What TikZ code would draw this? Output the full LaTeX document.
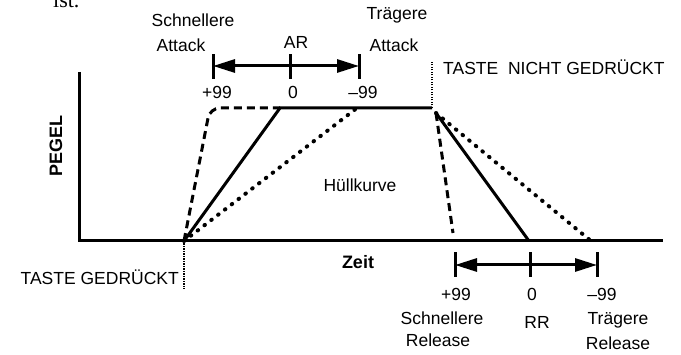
\documentclass[tikz,border=0pt]{standalone}
\usepackage{fontspec}
\setmainfont{Liberation Sans}
\newfontfamily\bodyserif{Liberation Serif}
\usetikzlibrary{arrows.meta}

\begin{document}
\begin{tikzpicture}[x=1pt,y=-1pt,
  lbl/.style={font=\fontsize{17.5}{19}\selectfont, inner sep=0pt},
  blbl/.style={font=\fontsize{18}{20}\selectfont\bfseries, inner sep=0pt},
  axis/.style={line width=3pt},
  env/.style={line width=3pt},
  envdash/.style={line width=3pt, dash pattern=on 8pt off 5pt},
  envdot/.style={line width=4pt, line cap=round, dash pattern=on 0.6pt off 8pt},
  keymark/.style={line width=2.6pt, dash pattern=on 1.3pt off 1.2pt},
  tickmark/.style={line width=3pt},
  ratearrow/.style={line width=3pt, -{Triangle[length=22pt,width=13pt]}}
]
\useasboundingbox (0,0) rectangle (681,355);

% fragment of the running text above the figure
\node[font=\bodyserif\fontsize{22}{24}\selectfont, inner sep=0pt, anchor=base west] (ist) at (53,8) {ist.};

% axes
\coordinate (ytop) at (79,72);
\coordinate (orig) at (79,241);
\coordinate (xend) at (663,241);
\draw[axis] (ytop) -- (orig) -- (xend);
\node[blbl, rotate=90] (pegel) at (56,146) {PEGEL};
\node[blbl] (zeit) at (358,262) {Zeit};

% key events
\coordinate (on) at (184,241);
\coordinate (onlow) at (184,289);
\coordinate (off) at (432,108);
\coordinate (offhigh) at (432,61);
\draw[keymark] (on) -- (onlow);
\draw[keymark] (off) -- (offhigh);
\node[lbl, anchor=east] (pressed) at (179,277) {TASTE GEDRÜCKT};
\node[lbl, anchor=west] (released) at (443,67) {TASTE\ \ NICHT GEDRÜCKT};

% envelope: attack
\coordinate (atk) at (280,108);
\coordinate (atkfast) at (210,108);
\coordinate (atkslow) at (357,108);
\draw[env] (on) -- (atk) -- (off);
\draw[envdash, rounded corners=10pt] (on) -- (atkfast) -- (atk);
\draw[envdot] (on) -- (atkslow);

% envelope: release
\coordinate (rel) at (436,113);
\coordinate (relend) at (529,241);
\coordinate (relfast) at (453,233);
\coordinate (relslow) at (591,241);
\draw[env] (rel) -- (relend);
\draw[envdash] (rel) -- (relfast);
\draw[envdot] (rel) -- (relslow);

\node[lbl] (huell) at (360,185) {Hüllkurve};

% attack rate scale
\coordinate (a1) at (213,66);
\coordinate (a0) at (290,66);
\coordinate (a2) at (359,66);
\foreach \p in {a1,a0,a2}
  \draw[tickmark] ([yshift=-13pt]\p) -- ([yshift=12pt]\p);
\draw[ratearrow] (a0) -- (a1);
\draw[ratearrow] (a0) -- (a2);
\node[lbl] (ap) at (217,92) {+99};
\node[lbl] (az) at (293,92) {0};
\node[lbl] (am) at (363,92) {\symbol{"2013}99};
\node[lbl] (ar) at (296,42) {AR};
\node[lbl] (afast1) at (193,20) {Schnellere};
\node[lbl] (afast2) at (181,45) {Attack};
\node[lbl] (aslow1) at (397,15) {Trägere};
\node[lbl] (aslow2) at (394,45) {Attack};

% release rate scale
\coordinate (r1) at (455,265);
\coordinate (r0) at (530,265);
\coordinate (r2) at (597,265);
\foreach \p in {r1,r0,r2}
  \draw[tickmark] ([yshift=-12pt]\p) -- ([yshift=13pt]\p);
\draw[ratearrow] (r0) -- (r1);
\draw[ratearrow] (r0) -- (r2);
\node[lbl] (rp) at (456,294) {+99};
\node[lbl] (rz) at (532,294) {0};
\node[lbl] (rm) at (602,294) {\symbol{"2013}99};
\node[lbl] (rr) at (537,322) {RR};
\node[lbl] (rfast1) at (442,318) {Schnellere};
\node[lbl] (rfast2) at (438,340) {Release};
\node[lbl] (rslow1) at (618,320) {Trägere};
\node[lbl] (rslow2) at (618,343) {Release};
\end{tikzpicture}
\end{document}
